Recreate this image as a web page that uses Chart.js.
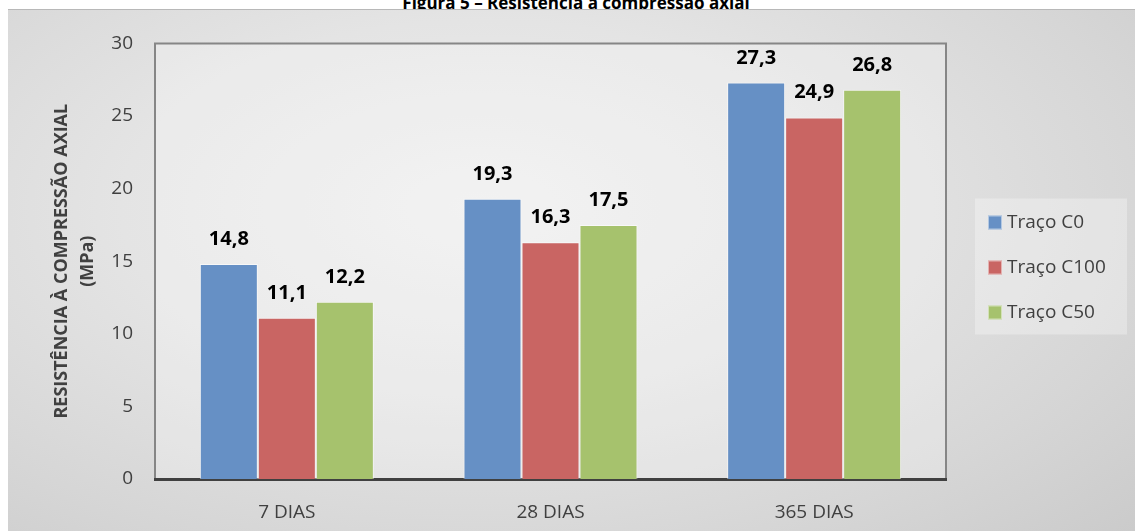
<!DOCTYPE html>
<html lang="pt">
<head>
<meta charset="UTF-8">
<script src="https://cdn.jsdelivr.net/npm/chart.js@4.4.0/dist/chart.umd.min.js"></script>
<title>Figura 5 – Resistência à compressão axial</title>
<style>
  body { margin: 0; background: #fff; font-family: "Open Sans", sans-serif; }
  #cap { position: absolute; left: 0; top: 0; width: 1135px; height: 9px; overflow: hidden; }
  #cap span { position: absolute; left: 576px; top: -6px; transform: translateX(-50%);
    white-space: nowrap; font-weight: bold; font-size: 17px; line-height: 17px; color: #000; }
  #wrap { position: absolute; left: 8px; top: 9px; width: 1127px; height: 521px;
    border-top: 1px solid #b8b8b8;
    background: radial-gradient(ellipse 80% 90% at 42% 38%, #eeeeee 0%, #e4e4e4 40%, #d6d6d6 75%, #cbcbcb 100%); }
</style>
</head>
<body>

<div id="cap"><span>Figura 5 – Resistência à compressão axial</span></div>
<div id="wrap">
  <canvas id="myChart" width="1127" height="521"></canvas>
</div>

<script>
  // dados
  const categorias = ['7 DIAS', '28 DIAS', '365 DIAS'];
  const tracoC0 = [14.8, 19.3, 27.3];
  const tracoC100 = [11.1, 16.3, 24.9];
  const tracoC50 = [12.2, 17.5, 26.8];
  const nomes = ['Traço C0', 'Traço C100', 'Traço C50'];
  const yMin = 0, yMax = 30, yStep = 5;

  const cores = ['#6690c5', '#c96563', '#a6c26d'];
  const fonte = '"Open Sans", sans-serif';

  const fmt = v => v.toFixed(1).replace('.', ',');

  // fundo e moldura da area do grafico
  const moldura = {
    id: 'moldura',
    beforeDraw(chart) {
      const {ctx, chartArea: a} = chart;
      ctx.save();
      ctx.fillStyle = 'rgba(255,255,255,0.25)';
      ctx.fillRect(a.left, a.top, a.right - a.left, a.bottom - a.top);
      ctx.strokeStyle = '#868686';
      ctx.lineWidth = 2;
      ctx.beginPath();
      ctx.moveTo(a.left, a.bottom);
      ctx.lineTo(a.left, a.top);
      ctx.lineTo(a.right, a.top);
      ctx.lineTo(a.right, a.bottom);
      ctx.stroke();
      ctx.restore();
    }
  };

  // valores em cima das barras
  const rotulos = {
    id: 'rotulos',
    afterDatasetsDraw(chart) {
      const ctx = chart.ctx;
      ctx.save();
      ctx.font = 'bold 20px ' + fonte;
      ctx.fillStyle = '#000';
      ctx.textAlign = 'center';
      ctx.textBaseline = 'alphabetic';
      chart.data.datasets.forEach((ds, i) => {
        chart.getDatasetMeta(i).data.forEach((bar, j) => {
          ctx.fillText(fmt(ds.data[j]), bar.x, bar.y - 19);
        });
      });
      ctx.restore();
    }
  };

  // legenda a direita
  const legenda = {
    id: 'legenda',
    afterDraw(chart) {
      const {ctx, chartArea: a} = chart;
      const x0 = a.right + 29, w = 152, h = 136;
      const y0 = chart.height / 2 - h / 2 - 4;
      ctx.save();
      ctx.fillStyle = 'rgba(255,255,255,0.3)';
      ctx.fillRect(x0, y0, w, h);
      ctx.font = '19px ' + fonte;
      ctx.textBaseline = 'middle';
      chart.data.datasets.forEach((ds, i) => {
        const cy = y0 + 24 + i * 45;
        ctx.fillStyle = ds.backgroundColor;
        ctx.fillRect(x0 + 13, cy - 7, 14, 14);
        ctx.strokeStyle = 'rgba(255,255,255,0.5)';
        ctx.lineWidth = 1;
        ctx.strokeRect(x0 + 13.5, cy - 6.5, 13, 13);
        ctx.fillStyle = '#404040';
        ctx.fillText(ds.label, x0 + 32, cy);
      });
      ctx.restore();
    }
  };

  const ctx = document.getElementById('myChart').getContext('2d');

  new Chart(ctx, {
    type: 'bar',
    data: {
      labels: categorias,
      datasets: [tracoC0, tracoC100, tracoC50].map((d, i) => ({
        label: nomes[i],
        data: d,
        backgroundColor: cores[i],
        borderColor: 'rgba(255,255,255,0.55)',
        borderWidth: 1,
        borderSkipped: 'start',
        categoryPercentage: 0.66,
        barPercentage: 1.0
      }))
    },
    options: {
      responsive: false,
      animation: false,
      devicePixelRatio: 1,
      layout: { padding: { top: 29, right: 189, bottom: 0, left: 0 } },
      plugins: {
        legend: { display: false },
        tooltip: { enabled: false }
      },
      scales: {
        x: {
          z: 1,
          grid: { display: false, drawTicks: false },
          border: { display: true, color: '#404040', width: 3 },
          ticks: { color: '#404040', font: { family: fonte, size: 19 }, padding: 22 },
          afterFit: s => { s.height = 52; }
        },
        y: {
          min: yMin,
          max: yMax,
          grid: { display: false, drawTicks: false },
          border: { display: false },
          ticks: { stepSize: yStep, color: '#404040', font: { family: fonte, size: 19 }, padding: 22 },
          title: {
            display: true,
            text: ['RESISTÊNCIA À COMPRESSÃO AXIAL', '(MPa)'],
            color: '#404040',
            font: { family: fonte, size: 18, weight: 'bold', lineHeight: 1.45 },
            padding: { top: 41, bottom: 0 }
          },
          afterFit: s => { s.width = 147; }
        }
      }
    },
    plugins: [moldura, rotulos, legenda]
  });
</script>

</body>
</html>
